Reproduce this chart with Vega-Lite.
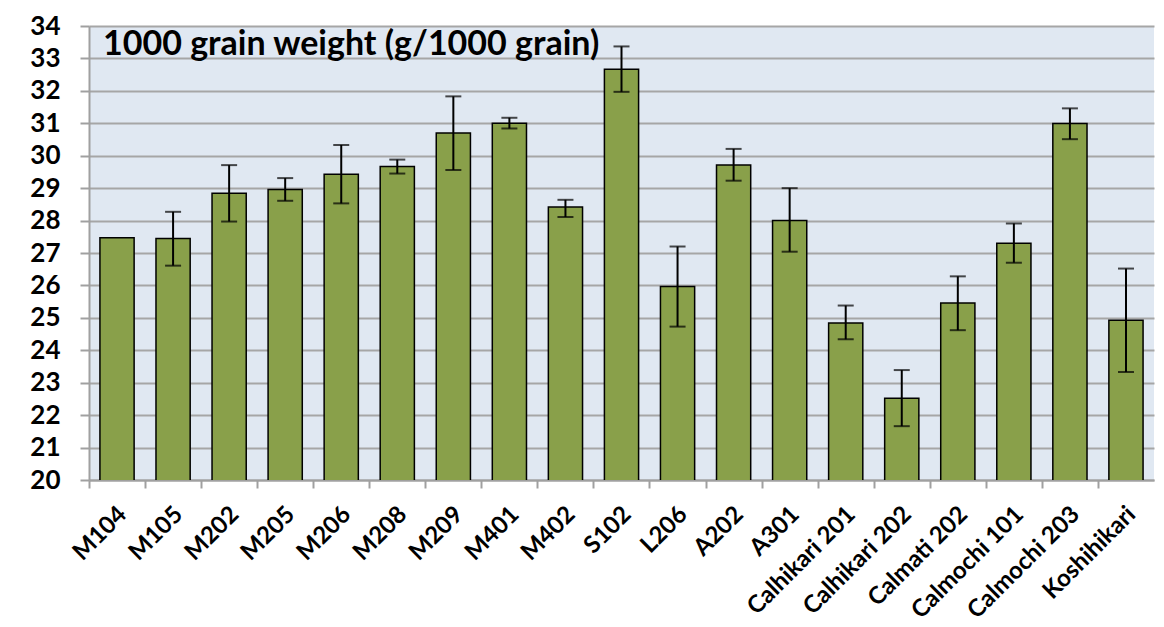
{
  "$schema": "https://vega.github.io/schema/vega-lite/v6.json",
  "autosize": {"type": "none"},
  "width": 1065,
  "height": 454,
  "padding": {"left": 89, "top": 26, "right": 10, "bottom": 147},
  "background": "white",
  "title": {
    "text": "1000 grain weight (g/1000 grain)",
    "anchor": "start",
    "frame": "group",
    "orient": "top",
    "offset": -76,
    "dx": 14,
    "font": "Lato",
    "fontSize": 34,
    "fontWeight": "bold",
    "color": "black",
    "baseline": "alphabetic"
  },
  "config": {
    "view": {"fill": "#e0e8f2", "stroke": null},
    "axis": {
      "labelFont": "Lato",
      "labelFontWeight": "bold",
      "labelColor": "black",
      "labelOverlap": false,
      "domainColor": "#a0a0a0",
      "domainWidth": 2,
      "tickColor": "#a0a0a0",
      "tickWidth": 2,
      "gridColor": "#a6a6a6",
      "gridWidth": 2
    },
    "axisY": {
      "labelFontSize": 26,
      "labelFlush": false,
      "tickSize": 9,
      "labelPadding": 20,
      "grid": true,
      "title": null
    }
  },
  "data": {
    "values": [
      {"variety": "M104", "weight": 27.47},
      {"variety": "M105", "weight": 27.45, "lo": 26.61, "hi": 28.27},
      {"variety": "M202", "weight": 28.84, "lo": 27.97, "hi": 29.71},
      {"variety": "M205", "weight": 28.96, "lo": 28.61, "hi": 29.31},
      {"variety": "M206", "weight": 29.43, "lo": 28.53, "hi": 30.33},
      {"variety": "M208", "weight": 29.67, "lo": 29.45, "hi": 29.88},
      {"variety": "M209", "weight": 30.7, "lo": 29.56, "hi": 31.83},
      {"variety": "M401", "weight": 31.0, "lo": 30.84, "hi": 31.17},
      {"variety": "M402", "weight": 28.42, "lo": 28.11, "hi": 28.64},
      {"variety": "S102", "weight": 32.67, "lo": 31.97, "hi": 33.37},
      {"variety": "L206", "weight": 25.97, "lo": 24.73, "hi": 27.2},
      {"variety": "A202", "weight": 29.71, "lo": 29.23, "hi": 30.21},
      {"variety": "A301", "weight": 28.0, "lo": 27.04, "hi": 29.0},
      {"variety": "Calhikari 201", "weight": 24.84, "lo": 24.34, "hi": 25.38},
      {"variety": "Calhikari 202", "weight": 22.52, "lo": 21.66, "hi": 23.39},
      {"variety": "Calmati 202", "weight": 25.46, "lo": 24.62, "hi": 26.28},
      {"variety": "Calmochi 101", "weight": 27.3, "lo": 26.7, "hi": 27.91},
      {"variety": "Calmochi 203", "weight": 30.99, "lo": 30.51, "hi": 31.46},
      {"variety": "Koshihikari", "weight": 24.93, "lo": 23.33, "hi": 26.52}
    ]
  },
  "encoding": {
    "x": {
      "field": "variety",
      "type": "nominal",
      "sort": null,
      "scale": {"paddingInner": 0.39, "paddingOuter": 0.195},
      "axis": {
        "title": null,
        "labelAngle": -45,
        "labelFontSize": 24,
        "labelOverlap": false,
        "bandPosition": 0,
        "tickOffset": -11,
        "labelOffset": 8,
        "tickSize": 8,
        "labelPadding": 14,
        "grid": false
      }
    }
  },
  "layer": [
    {
      "mark": {"type": "bar", "fill": "#89a04a", "stroke": "black", "strokeWidth": 1.5, "clip": true},
      "encoding": {
        "y": {
          "field": "weight",
          "type": "quantitative",
          "scale": {"domain": [20, 34], "nice": false, "zero": false},
          "axis": {"values": [20, 21, 22, 23, 24, 25, 26, 27, 28, 29, 30, 31, 32, 33, 34], "tickCount": 15}
        }
      }
    },
    {
      "mark": {"type": "rule", "color": "black", "strokeWidth": 2},
      "encoding": {
        "y": {"field": "lo", "type": "quantitative", "axis": {"values": [20, 21, 22, 23, 24, 25, 26, 27, 28, 29, 30, 31, 32, 33, 34], "tickCount": 15}},
        "y2": {"field": "hi"}
      }
    },
    {
      "mark": {"type": "tick", "color": "black", "thickness": 2, "size": 16},
      "encoding": {"y": {"field": "lo", "type": "quantitative", "axis": {"values": [20, 21, 22, 23, 24, 25, 26, 27, 28, 29, 30, 31, 32, 33, 34], "tickCount": 15}}}
    },
    {
      "mark": {"type": "tick", "color": "black", "thickness": 2, "size": 16},
      "encoding": {"y": {"field": "hi", "type": "quantitative", "axis": {"values": [20, 21, 22, 23, 24, 25, 26, 27, 28, 29, 30, 31, 32, 33, 34], "tickCount": 15}}}
    }
  ]
}
